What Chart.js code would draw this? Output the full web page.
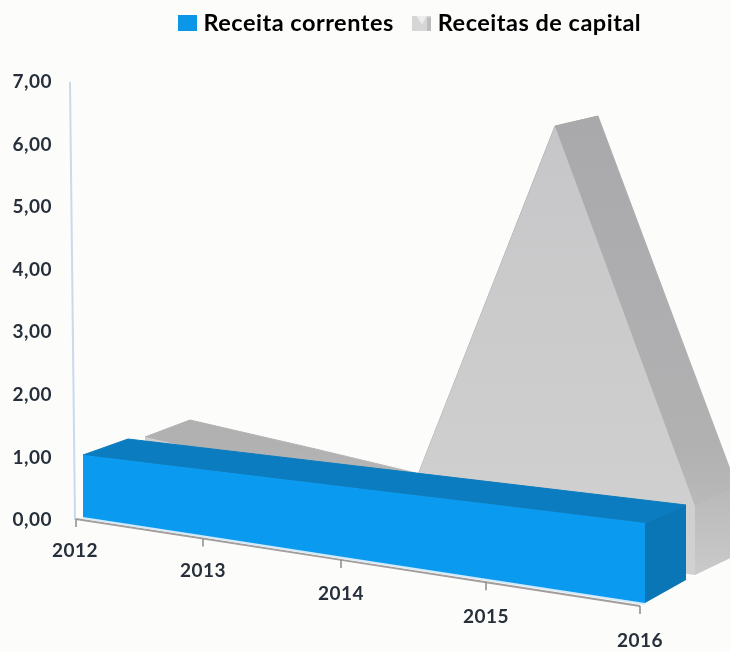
<!DOCTYPE html>
<html><head><meta charset="utf-8">
<style>html,body{margin:0;padding:0;background:#fcfcfb}canvas{display:block;filter:blur(0.6px)}</style>
<script src="https://cdn.jsdelivr.net/npm/chart.js@4"></script>
</head><body><canvas id="c" width="730" height="652"></canvas>
<script>
// ---- data ----
const categories = ['2012','2013','2014','2015','2016'];
const receitaCorrentes = [1.0,1.0,1.0,1.0,1.0];
const receitasCapital = [1.0,0.75,0.5,6.0,0.9];
const yTicksMax = 7;
const seriesNames = ['Receita correntes','Receitas de capital'];

// ---- oblique 3D view of the plot: depth layers ----
const AXIS=0, BLUE_F=1, BLUE_B=2, GREY_F=3, GREY_B=4;
const view = [
  {xs:[76,203,341,486,640], base:[519,606], unit:[62,80]},
  {xs:[83,209,347,491,645], base:[517,603], unit:[62,80]},
  {xs:[128,254,391,534,686], base:[501,580], unit:[62,75]},
  {xs:[145,272,408,555,695], base:[495,575], unit:[58,76]},
  {xs:[190,315,450,598,737], base:[476,555], unit:[56,74.5]}
];
function project(i,v,z){
  const L=view[z], X=L.xs[i], t=(X-L.xs[0])/(L.xs[4]-L.xs[0]);
  const b=L.base[0]+t*(L.base[1]-L.base[0]), u=L.unit[0]+t*(L.unit[1]-L.unit[0]);
  return {x:X,y:b-v*u};
}
const pts=(vals,z)=>vals.map((v,i)=>({x:categories[i],y:v,z}));
const zeros=categories.map(()=>0);
const front=(vals,z)=>[...pts(vals,z),...pts(zeros,z).reverse()];
const quad=(vals,i,a,b)=>[
  {x:categories[i],y:vals[i],z:a},{x:categories[i+1],y:vals[i+1],z:a},
  {x:categories[i+1],y:vals[i+1],z:b},{x:categories[i],y:vals[i],z:b}];
const side=(vals,a,b)=>{const n=vals.length-1,c=categories[n];
  return [{x:c,y:vals[n],z:a},{x:c,y:0,z:a},{x:c,y:0,z:b},{x:c,y:vals[n],z:b}];};

const cv=document.getElementById('c'), cx=cv.getContext('2d');
const gFront=cx.createLinearGradient(0,120,0,570);
gFront.addColorStop(0,'#c6c6c8');gFront.addColorStop(1,'#d2d1d1');
const gTop=cx.createLinearGradient(0,117,0,575);
gTop.addColorStop(0,'#a9a9ac');gTop.addColorStop(.72,'#b2b1b2');gTop.addColorStop(1,'#c4c3c3');
const gSide=cx.createLinearGradient(0,480,0,575);
gSide.addColorStop(0,'#b8b7b7');gSide.addColorStop(1,'#cbcaca');

function icon(w,h,draw){const k=document.createElement('canvas');k.width=w;k.height=h;draw(k.getContext('2d'));return k;}
const blueIcon=icon(19,16,g=>{g.fillStyle='#0a97e8';g.fillRect(0,0,19,16);});
const greyIcon=icon(19,15,g=>{g.fillStyle='#d6d6d6';g.fillRect(0,0,19,15);g.fillStyle='#ededed';g.beginPath();g.moveTo(4,0);g.lineTo(10,9);g.lineTo(15,0);g.fill();g.fillStyle='#bdbdbd';g.fillRect(15,2,4,13);});

const poly=(label,data,color)=>({label,data,fill:'shape',backgroundColor:color,borderColor:'transparent',borderWidth:0,pointRadius:0,tension:0,clip:false});
const lineDs=(label,data,color,w)=>({label,data,fill:false,borderColor:color,borderWidth:w,pointRadius:0,tension:0,clip:false});
const strips=(label,vals,a,b,color)=>vals.slice(1).map((_,i)=>({...poly(label+' '+i,[...quad(vals,i,a,b),quad(vals,i,a,b)[0]],color),borderColor:color,borderWidth:1}));

const datasets=[
  poly(seriesNames[0],front(receitaCorrentes,BLUE_F),'#0a9bf0'),
  poly('blue side',side(receitaCorrentes,BLUE_F,BLUE_B),'#0a76b6'),
  ...strips('blue top',receitaCorrentes,BLUE_F,BLUE_B,'#0a7cbf'),
  lineDs('blue base',pts(zeros,BLUE_F),'#d3eafa',4),
  lineDs('x axis',pts(zeros,AXIS),'#a39d9b',2),
  poly(seriesNames[1],front(receitasCapital,GREY_F),gFront),
  poly('grey side',side(receitasCapital,GREY_F,GREY_B),gSide),
  ...strips('grey top',receitasCapital,GREY_F,GREY_B,gTop)
];

let savedArea=null;
const view3d={
  id:'view3d',
  beforeLayout(chart){ chart.ctx.letterSpacing='0.5px'; },
  afterLayout(chart){
    const lg=chart.legend; lg.left=46.9; lg.right=776.9; lg.top=-12;
  },
  afterDatasetsUpdate(chart){
    const xs=chart.scales.x, ys=chart.scales.y;
    chart.data.datasets.forEach((d,k)=>{
      chart.getDatasetMeta(k).data.forEach((p,n)=>{
        const q=project(xs.getValueForPixel(p.x),ys.getValueForPixel(p.y),d.data[n].z);
        p.x=q.x;p.y=q.y;
      });
    });
  },
  beforeDatasetsDraw(chart){
    const c=chart.ctx, ys=chart.scales.y, a=chart.chartArea;
    c.save();c.strokeStyle='#c8daec';c.lineWidth=2;c.beginPath();
    c.moveTo(a.left-2,ys.getPixelForValue(yTicksMax));c.lineTo(a.left+3,ys.getPixelForValue(0));c.stroke();c.restore();
    savedArea=chart.chartArea;
    chart.chartArea={left:0,top:0,right:chart.width,bottom:chart.height,width:chart.width,height:chart.height};
  },
  afterDatasetsDraw(chart){
    chart.chartArea=savedArea;
    const c=chart.ctx;
    c.save();
    c.font='bold 19px Lato';c.fillStyle='#27303a';c.textAlign='center';c.textBaseline='middle';
    chart.scales.x.ticks.forEach((t,i)=>{
      const q=project(i,0,AXIS);
      c.strokeStyle='#8b8b8b';c.lineWidth=1.5;c.beginPath();c.moveTo(q.x,q.y);c.lineTo(q.x,q.y+8);c.stroke();
      c.fillText(categories[i],q.x-(i===0?1:0),q.y+32+i*0.75);
    });
    c.restore();
  }
};

new Chart(cv,{
  type:'line',
  data:{labels:categories,datasets},
  plugins:[view3d],
  options:{
    responsive:false,animation:false,
    layout:{padding:{top:25.25,left:12,bottom:132,right:0}},
    scales:{
      x:{type:'category',labels:categories,display:false},
      y:{min:0,max:yTicksMax,
        afterFit(s){s.width=60;},
        grid:{display:false,drawTicks:false},border:{display:false},
        ticks:{stepSize:1,padding:20,color:'#27303a',font:{family:'Lato',weight:'bold',size:19},
          callback:v=>v.toFixed(2).replace('.',',')}}
    },
    plugins:{
      tooltip:{enabled:false},
      legend:{position:'top',labels:{
        usePointStyle:true,pointStyleWidth:9,padding:23.25,color:'#26343f',
        font:{family:'Lato',weight:'bold',size:23.5},
        generateLabels:()=>[
          {text:seriesNames[0],pointStyle:blueIcon,fillStyle:'#0a97e8',strokeStyle:'transparent',lineWidth:0,datasetIndex:0},
          {text:seriesNames[1],pointStyle:greyIcon,fillStyle:'#d6d6d6',strokeStyle:'transparent',lineWidth:0,datasetIndex:8}
        ]
      }}
    }
  }
});
</script></body></html>
